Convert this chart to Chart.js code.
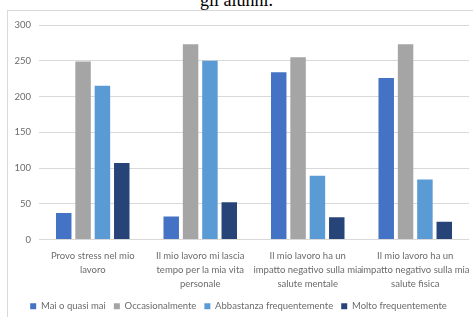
<!DOCTYPE html>
<html>
<head>
<meta charset="utf-8">
<script src="https://cdn.jsdelivr.net/npm/chart.js@4"></script>
<style>
  html, body { margin: 0; padding: 0; background: #fff; overflow: hidden; }
  body { width: 473px; height: 317px; position: relative; }
  #caption {
    position: absolute; left: 0; width: 473px; top: -10px;
    text-align: center; font: 18px "Liberation Serif", serif; color: #000;
  }
  #frame {
    position: absolute; left: 7px; top: 10px; width: 470px; height: 310px;
    border: 1px solid #d9d9d9; background: #fff;
  }
  #box { position: absolute; left: 0; top: 0; width: 466px; height: 310px; }
</style>
</head>
<body>
<div id="caption">gli alunni.</div>
<div id="frame"><div id="box"><canvas id="chart"></canvas></div></div>
<script>
// questions (wrapped like the original axis labels)
const categories = [
  ['Provo stress nel mio', 'lavoro'],
  ['Il mio lavoro mi lascia', 'tempo per la mia vita', 'personale'],
  ['Il mio lavoro ha un', 'impatto negativo sulla mia', 'salute mentale'],
  ['Il mio lavoro ha un', 'impatto negativo sulla mia', 'salute fisica']
];

const seriesNames = ['Mai o quasi mai', 'Occasionalmente', 'Abbastanza frequentemente', 'Molto frequentemente'];
const maiQuasiMai = [37, 32, 234, 226];
const occasionalmente = [249, 273, 255, 273];
const abbastanza = [215, 250, 89, 84];
const moltoFreq = [107, 52, 31, 25];
const colors = ['#4472C4', '#A5A5A5', '#5B9BD5', '#264478'];

const yTicks = [0, 50, 100, 150, 200, 250, 300];

const font = { family: 'Lato, "Open Sans", sans-serif', size: 9.5, lineHeight: 1.45 };
const textColor = '#6b6b6b';

const seriesValues = [maiQuasiMai, occasionalmente, abbastanza, moltoFreq];

new Chart(document.getElementById('chart'), {
  type: 'bar',
  data: {
    labels: categories,
    datasets: seriesNames.map((name, i) => ({
      label: name,
      data: seriesValues[i],
      backgroundColor: colors[i],
      borderWidth: 0,
      categoryPercentage: 0.72,
      barPercentage: 0.8
    }))
  },
  options: {
    responsive: true,
    maintainAspectRatio: false,
    animation: false,
    layout: { padding: { top: 14, right: 5, left: 0, bottom: 0 } },
    plugins: {
      tooltip: { enabled: false },
      legend: {
        position: 'bottom',
        labels: {
          boxWidth: 6, boxHeight: 6, padding: 8,
          color: textColor, font: { family: font.family, size: 9.5 }
        }
      }
    },
    scales: {
      x: {
        grid: { display: false },
        border: { display: false },
        ticks: { color: textColor, font: font, maxRotation: 0, autoSkip: false, padding: 2 },
        afterFit: s => { s.height = 54; }
      },
      y: {
        min: 0, max: 300,
        afterBuildTicks: s => { s.ticks = yTicks.map(v => ({ value: v })); },
        grid: { color: '#d9d9d9', drawTicks: false },
        border: { display: false },
        ticks: { color: textColor, font: { family: font.family, size: 9.5 }, padding: 8 },
        afterFit: s => { s.width = 31; }
      }
    }
  }
});
</script>
</body>
</html>
